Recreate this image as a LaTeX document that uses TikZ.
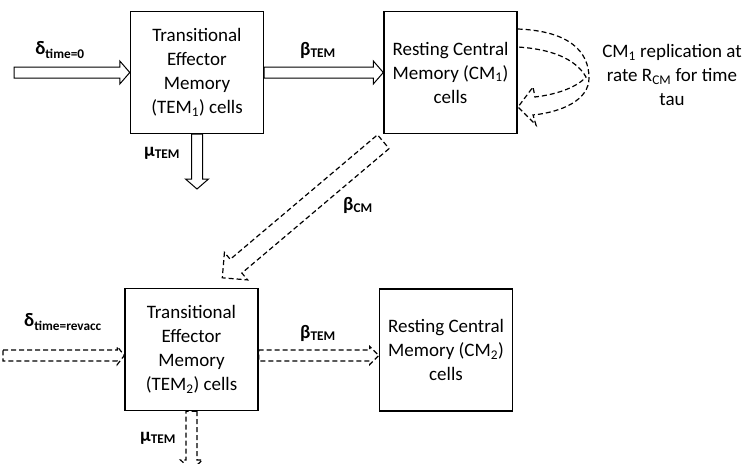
\documentclass[tikz,border=0pt]{standalone}
\usepackage{fontspec}
\setmainfont{Carlito}
\usetikzlibrary{calc}

% hollow block arrows between two points
\tikzset{
  flowshaft/.store in=\flowshaft,
  flowhead/.store in=\flowhead,
  flowtip/.store in=\flowtip,
  flowshaft=5.5pt, flowhead=11.5pt, flowtip=10pt,
  flow/.style={draw, line width=1pt, to path={
      ($(\tikztostart)!\flowshaft!90:(\tikztotarget)$)
   -- ($(\tikztotarget)!\flowtip!(\tikztostart)!\flowshaft!90:(\tikztotarget)$)
   -- ($(\tikztotarget)!\flowtip!(\tikztostart)!\flowhead!90:(\tikztotarget)$)
   -- (\tikztotarget)
   -- ($(\tikztotarget)!\flowtip!(\tikztostart)!\flowhead!-90:(\tikztotarget)$)
   -- ($(\tikztotarget)!\flowtip!(\tikztostart)!\flowshaft!-90:(\tikztotarget)$)
   -- ($(\tikztostart)!\flowshaft!-90:(\tikztotarget)$) -- cycle}},
  dashflow/.style={flow, line width=1.2pt, dash pattern=on 5pt off 3pt},
  cell/.style={draw, line width=1.4pt, minimum width=133pt, minimum height=122pt,
    align=center, inner sep=0pt},
  rate/.style={font=\fontsize{19}{24}\selectfont\bfseries}
}

\begin{document}
\begin{tikzpicture}[x=1pt, y=-1pt, font=\fontsize{19}{24}\selectfont]
\useasboundingbox (0,0) rectangle (751,463);

% first dose
\node[cell] (tem1) at (197,72.5) {Transitional\\Effector\\Memory\\(TEM\textsubscript{1}) cells};
\node[cell] (cm1) at (450.5,72.5) {Resting Central\\Memory (CM\textsubscript{1})\\cells};

% revaccination
\node[cell] (tem2) at (191.5,349.5) {Transitional\\Effector\\Memory\\(TEM\textsubscript{2}) cells};
\node[cell] (cm2) at (446,350) {Resting Central\\Memory (CM\textsubscript{2})\\cells};

\coordinate (dose1) at (14,72.5);
\coordinate (death1) at (197,189);
\coordinate (dose2) at (3,355.5);
\coordinate (tem2in) at (tem2.west |- dose2);
\coordinate (tem2out) at (tem2.east |- dose2);
\coordinate (cm2in) at (cm2.west |- dose2);
\coordinate (death2) at (191.5,470);
\coordinate (cmout) at ($(cm1.south west)+(0,7.5)$);
\coordinate (tem2top) at ($(tem2.north west)+(98,-10)$);

\draw[flow] (dose1) to (tem1.west);
\draw[flow] (tem1.east) to (cm1.west);
\draw[flow] (tem1.south) to (death1);

\draw[dashflow, flowshaft=9pt, flowhead=18pt, flowtip=18pt] (cmout) to (tem2top);
\draw[dashflow, flowhead=9pt, flowtip=7pt] (dose2) to (tem2in);
\draw[dashflow, flowhead=9pt, flowtip=9pt] (tem2out) to (cm2in);
\draw[dashflow, flowhead=11pt, flowtip=10pt] (tem2.south) to (death2);

% CM1 self renewal
\draw[line width=1.2pt, dash pattern=on 5pt off 3pt]
  ([yshift=43.5pt]cm1.east) .. controls (570,31) and (589,52) .. (589,78)
  .. controls (589,100) and (562,112) .. (533,115)
  -- (536,125) -- (518,107) -- (533,87) -- (535,97)
  .. controls (560,94) and (578,86) .. (586,77)
  .. controls (575,58) and (550,49) .. ([yshift=25.5pt]cm1.east);

\node[rate] (d1) at (60,50) {δ\textsubscript{time=0}};
\node[rate] (b1) at (318,50) {β\textsubscript{TEM}};
\node[rate] (m1) at (162,153) {μ\textsubscript{TEM}};
\node[rate] (bcm) at (358,205) {β\textsubscript{CM}};
\node[rate] (d2) at (63,322) {δ\textsubscript{time=revacc}};
\node[rate] (b2) at (318,333) {β\textsubscript{TEM}};
\node[rate] (m2) at (158,438) {μ\textsubscript{TEM}};
\node[align=center] (rep) at (672,75) {CM\textsubscript{1} replication at\\rate R\textsubscript{CM} for time\\tau};
\end{tikzpicture}
\end{document}
